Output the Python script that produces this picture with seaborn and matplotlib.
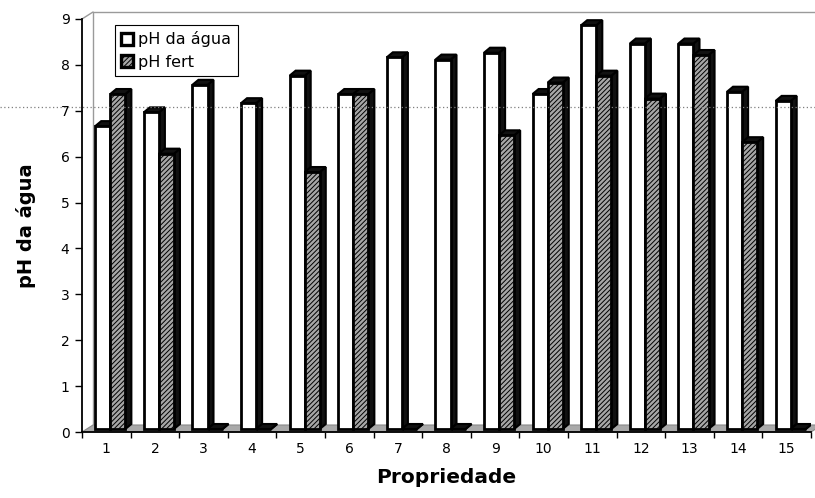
import numpy as np
import pandas as pd
import matplotlib
matplotlib.use("Agg")
import matplotlib.pyplot as plt
from matplotlib.patches import Polygon, Patch
from matplotlib.lines import Line2D
import seaborn as sns

# Data: pH of the water and of the fertiliser solution per property
propriedades = [str(i) for i in range(1, 16)]
ph_agua = [6.6, 6.9, 7.5, 7.1, 7.7, 7.3, 8.1, 8.05, 8.2, 7.3, 8.8, 8.4, 8.4, 7.35, 7.15]
ph_fert = [7.3, 6.0, 0.0, 0.0, 5.6, 7.3, 0.0, 0.0, 6.4, 7.55, 7.7, 7.2, 8.15, 6.25, 0.0]
series = ["pH da água", "pH fert"]
y_ticks = list(range(10))

sns.set_style("white")
plt.rcParams["font.family"] = ["DejaVu Sans"]
plt.rcParams["hatch.linewidth"] = 0.7
for key in ("text.color", "axes.labelcolor", "xtick.color", "ytick.color"):
    plt.rcParams[key] = "black"

df = pd.DataFrame({
    "Propriedade": propriedades * 2,
    "pH": ph_agua + ph_fert,
    "Série": [series[0]] * len(ph_agua) + [series[1]] * len(ph_fert),
})

W, H = 815, 498
fig = plt.figure(figsize=(W / 100, H / 100), dpi=100)
L, R, B, T = 82, 811, 432, 19
ax = fig.add_axes([L / W, 1 - B / H, (R - L) / W, (B - T) / H])

face_cols = ["white", "#a6a6a6"]
sns.barplot(data=df, x="Propriedade", y="pH", hue="Série", hue_order=series,
            order=propriedades, palette=face_cols, width=0.62, dodge=True,
            errorbar=None, legend=False, ax=ax, edgecolor="black",
            linewidth=2.0, saturation=1)
n = len(propriedades)
ax.set_xlim(-0.5, n - 0.5)
ax.set_ylim(0, 9)

agua_bars = list(ax.containers[0])
fert_bars = list(ax.containers[1])
fert_ids = set(id(p) for p in fert_bars)
bars = sorted(agua_bars + fert_bars, key=lambda p: p.get_x())

# pixel offsets expressed in data units (oblique 3-D look)
ux = (R - L) / n
uy = (B - T) / 9.0


def px(dx, dy):
    return dx / ux, dy / uy


front = px(4, 3)
depth = px(6, 5)
wall = px(11, 7)

# floor and back-wall outline
floor = Polygon([(-0.5, 0), (n - 0.5, 0), (n - 0.5 + wall[0], wall[1]),
                 (-0.5 + wall[0], wall[1])], closed=True, facecolor="#a9a9a9",
                edgecolor="#8a8a8a", lw=0.8, zorder=1.2, clip_on=False)
ax.add_patch(floor)
wall_col = "#9a9a9a"
for xs, ys in [
    ([-0.5, -0.5 + wall[0]], [9, 9 + wall[1]]),
    ([-0.5 + wall[0], n - 0.5 + wall[0]], [9 + wall[1], 9 + wall[1]]),
    ([-0.5 + wall[0], -0.5 + wall[0]], [wall[1], 9 + wall[1]]),
]:
    ax.add_line(Line2D(xs, ys, color=wall_col, lw=1.0, zorder=1.1, clip_on=False))

# bars: shift the fronts back, add dark side and top faces
dark = "#111111"
for i, p in enumerate(bars):
    z = 2 + i * 0.01
    x0 = p.get_x() + front[0]
    w = p.get_width()
    h = p.get_height()
    y0 = front[1]
    y1 = y0 + h
    x1 = x0 + w
    p.set_x(x0)
    p.set_y(y0)
    p.set_zorder(z + 0.005)
    if id(p) in fert_ids:
        p.set_hatch("///////")
    side = Polygon([(x1, y0), (x1 + depth[0], y0 + depth[1]),
                    (x1 + depth[0], y1 + depth[1]), (x1, y1)], closed=True,
                   facecolor=dark, edgecolor="black", lw=1.5, zorder=z)
    top = Polygon([(x0, y1), (x0 + depth[0], y1 + depth[1]),
                   (x1 + depth[0], y1 + depth[1]), (x1, y1)], closed=True,
                  facecolor=dark, edgecolor="black", lw=1.5, zorder=z)
    ax.add_patch(side)
    ax.add_patch(top)

# axes, ticks and labels
for s in ("top", "right"):
    ax.spines[s].set_visible(False)
for s in ("left", "bottom"):
    ax.spines[s].set_color("black")
    ax.spines[s].set_linewidth(1.3)
    ax.spines[s].set_zorder(5)

ax.set_yticks(y_ticks)
ax.tick_params(axis="y", left=True, direction="out", length=5, width=1,
               labelsize=10, pad=4)
ax.set_xticks(range(n))
ax.set_xticklabels(propriedades)
ax.set_xticks(np.arange(-0.5, n, 1.0), minor=True)
ax.tick_params(axis="x", which="major", bottom=False, length=0, labelsize=10, pad=7)
ax.tick_params(axis="x", which="minor", bottom=True, direction="out", length=4, width=1)

ax.set_xlabel("Propriedade", fontsize=14.5, fontweight="bold", labelpad=9)
ax.set_ylabel("pH da água", fontsize=14, fontweight="bold", labelpad=18)

handles = [Patch(facecolor=face_cols[0], edgecolor="black", linewidth=2.4),
           Patch(facecolor=face_cols[1], edgecolor="black", hatch="///////", linewidth=2.4)]
leg = ax.legend(handles, series, loc="upper left",
                bbox_to_anchor=((115 - L) / (R - L), (B - 25) / (B - T)),
                borderaxespad=0, fancybox=False, framealpha=1, edgecolor="black",
                fontsize=11.5, handlelength=0.75, handleheight=0.75,
                handletextpad=0.3, borderpad=0.4, labelspacing=0.45)
leg.get_frame().set_linewidth(0.8)
leg.set_zorder(20)

# dotted rule running across the page
fig.add_artist(Line2D([0, 1], [1 - 107 / H] * 2, transform=fig.transFigure,
                      color="#7f7f7f", lw=0.9, linestyle=(0, (1, 2)), zorder=30))

fig.savefig("out.png", dpi=100)
